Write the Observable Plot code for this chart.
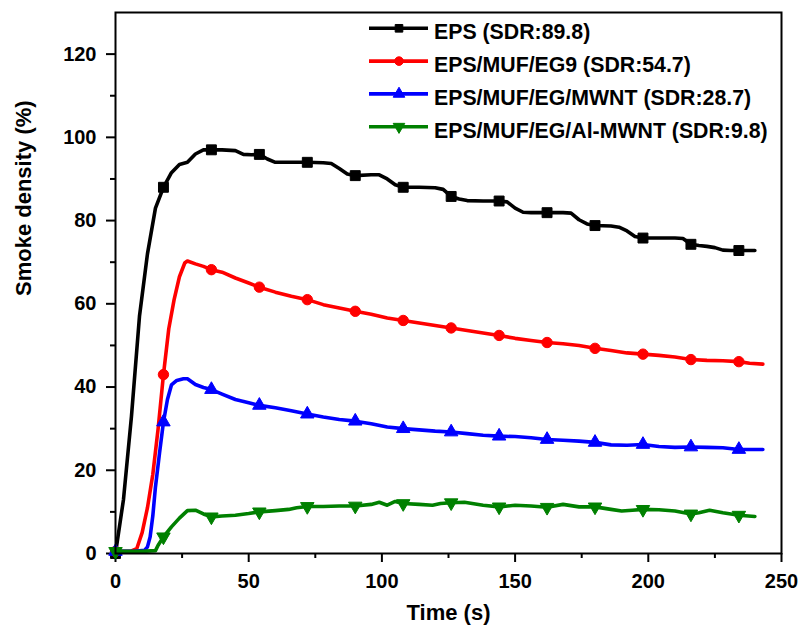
<!DOCTYPE html>
<html><head><meta charset="utf-8">
<script src="https://cdn.jsdelivr.net/npm/d3@7"></script>
<script src="https://cdn.jsdelivr.net/npm/@observablehq/plot@0.6"></script>
<style>
body{margin:0;background:#fff}
svg{font-family:"Liberation Sans",Arial,sans-serif;font-weight:bold}
</style>
</head><body><div id="chart"></div><script>
const seriesNames = ["EPS (SDR:89.8)", "EPS/MUF/EG9 (SDR:54.7)", "EPS/MUF/EG/MWNT (SDR:28.7)", "EPS/MUF/EG/Al-MWNT (SDR:9.8)"];
const seriesColors = ["#000000", "#ff0000", "#0000ff", "#008000"];
const xTicks = [0, 50, 100, 150, 200, 250];
const yTicks = [0, 20, 40, 60, 80, 100, 120];
const markerEvery = 18;

// [time (s), smoke density (%)]
const epsData = [[0,0],[3,13],[6,33],[9,57],[12,72],[15,83],[18,88],[21,91.5],[24,93.5],[27,94],[30,96],[33,97],[36,97],[40,97],[45,96.8],[48,95.9],[51,95.8],[54,95.9],[57,94.8],[60,94],[66,94],[72,94],[78,93.9],[81,93.7],[84,92.5],[87,91.2],[90,90.8],[96,91],[99,91],[102,90],[105,88.6],[108,88],[114,88],[120,87.9],[123,87.5],[126,85.8],[129,85.2],[132,84.8],[138,84.7],[144,84.7],[147,84.5],[150,83],[153,82],[156,81.9],[162,81.9],[168,81.9],[171,81.8],[174,80.2],[177,79.2],[180,78.8],[186,78.7],[189,78.4],[192,77.5],[195,76.2],[198,75.8],[204,75.8],[210,75.8],[213,75.7],[216,74.3],[219,74],[222,73.8],[225,73.5],[228,72.9],[231,72.8],[234,72.8],[237,72.8],[240,72.8]];
const eg9Data = [[0,0.5],[3,0.5],[6,0.6],[8,1.2],[10,5],[12,11],[14,19],[16,30],[18,43],[20,54],[22,61],[24,66.5],[26,69.8],[27,70.3],[30,69.6],[33,69],[36,68.2],[40,67.6],[45,66.2],[50,65],[54,64],[60,62.8],[66,61.8],[72,61],[78,59.8],[84,59],[90,58.2],[96,57.5],[102,56.6],[108,56],[114,55.4],[120,54.8],[126,54.2],[132,53.6],[138,53],[144,52.4],[150,51.7],[156,51.2],[162,50.7],[168,50.4],[174,50],[180,49.3],[186,48.8],[192,48.2],[198,47.9],[204,47.6],[210,47.2],[216,46.6],[222,46.4],[228,46.3],[234,46.1],[238,45.7],[243,45.5]];
const mwntData = [[0,0.5],[6,0.5],[11,0.8],[12,1.6],[13,4],[14,9],[15,16],[16.5,24],[18,31.6],[19.5,37],[21,40.5],[23,41.6],[25.5,42],[27,42],[30,40.6],[33,39.9],[36,39.4],[40,38.3],[45,37],[50,36.2],[54,35.6],[60,35],[66,34.3],[72,33.5],[78,32.8],[84,32.2],[90,31.8],[96,31.2],[102,30.4],[108,30],[114,29.7],[120,29.4],[126,29.2],[132,28.8],[138,28.4],[144,28.2],[150,28.1],[156,27.8],[162,27.4],[168,27.2],[174,27],[180,26.7],[186,26.1],[192,26],[198,26.2],[204,25.7],[210,25.5],[216,25.6],[222,25.5],[228,25.4],[234,25],[240,25],[243,25]];
const alData = [[0,0.5],[10,0.5],[15,0.7],[16,2],[18,4],[21,6.4],[24,8.5],[27,10.3],[30,10.4],[33,9.5],[36,8.8],[40,9],[45,9.2],[50,9.6],[54,10],[60,10.3],[65,10.6],[68,11],[72,11.3],[78,11.3],[84,11.4],[90,11.4],[96,11.8],[99,12.3],[102,11.6],[105,12.5],[108,12],[114,11.8],[119,11.6],[122,12],[126,12.2],[131,12.3],[138,11.6],[144,11.2],[150,11.6],[156,11.4],[162,11.1],[168,11.8],[174,11.2],[180,11.2],[186,10.6],[190,10.2],[194,10.4],[198,10.6],[204,10.5],[210,10.2],[216,9.5],[219,9.8],[223,10.4],[228,9.8],[234,9.2],[240,8.9]];

const allData = [epsData, eg9Data, mwntData, alData];

const sqrt3 = Math.sqrt(3);
const triangleDown = {
  draw(context, size) {
    const y = -Math.sqrt(size / (sqrt3 * 3));
    context.moveTo(0, -y * 2);
    context.lineTo(-sqrt3 * y, y);
    context.lineTo(sqrt3 * y, y);
    context.closePath();
  }
};
const symbols = ["square", "circle", "triangle", triangleDown];
const symbolObjs = [d3.symbolSquare, d3.symbolCircle, d3.symbolTriangle, triangleDown];
const radii = [5.6, 5.2, 5, 5];

const marks = [];
allData.forEach((data, i) => {
  const rows = data.map(([t, v]) => ({t, v}));
  marks.push(Plot.line(rows, {x: "t", y: "v", stroke: seriesColors[i], strokeWidth: 3.6, strokeLinejoin: "round", strokeLinecap: "round"}));
  marks.push(Plot.dot(rows.filter(d => d.t % markerEvery === 0), {x: "t", y: "v", symbol: symbols[i], r: radii[i], fill: seriesColors[i], stroke: seriesColors[i], strokeWidth: 1}));
});

const chart = Plot.plot({
  width: 802,
  height: 635,
  marginLeft: 115,
  marginRight: 21,
  marginTop: 12,
  marginBottom: 82,
  style: {fontFamily: "'Liberation Sans', Arial, sans-serif", background: "#fff", color: "#000"},
  x: {domain: [0, 250]},
  y: {domain: [0, 130]},
  marks: [
    Plot.axisX({ticks: d3.range(25, 250, 50), tickSize: 5, tickFormat: () => "", label: null, strokeWidth: 2}),
    Plot.axisY({ticks: d3.range(10, 130, 20), tickSize: 5, tickFormat: () => "", label: null, strokeWidth: 2}),
    Plot.axisX({ticks: xTicks, tickSize: 9, tickPadding: 11, fontSize: 20, fontWeight: "bold", label: null, strokeWidth: 2}),
    Plot.axisY({ticks: yTicks, tickSize: 9, tickPadding: 10, fontSize: 20, fontWeight: "bold", label: null, strokeWidth: 2}),
    ...marks,
    Plot.frame({stroke: "#000", strokeWidth: 2}),
    Plot.text(["Time (s)"], {frameAnchor: "bottom", dy: 66, fontSize: 22, fontWeight: "bold"}),
    Plot.text(["Smoke density (%)"], {frameAnchor: "left", dx: -92, dy: 13, rotate: -90, fontSize: 22, fontWeight: "bold"})
  ]
});
document.getElementById("chart").appendChild(chart);

// legend (inside plot, top right)
const svg = d3.select(chart);
const lg = svg.append("g").attr("text-anchor", "start");
seriesNames.forEach((name, i) => {
  const yy = 28.3 + i * 32.8;
  const g = lg.append("g");
  g.append("line").attr("x1", 369).attr("x2", 428).attr("y1", yy).attr("y2", yy)
    .attr("stroke", seriesColors[i]).attr("stroke-width", 3.6);
  g.append("path").attr("transform", `translate(399,${yy})`)
    .attr("d", d3.symbol(symbolObjs[i], Math.PI * 4.3 * 4.3)())
    .attr("fill", seriesColors[i]).attr("stroke", seriesColors[i]);
  g.append("text").attr("x", 434).attr("y", yy + 3.5).attr("dy", "0.36em")
    .attr("text-anchor", "start")
    .attr("font-size", 21.3).attr("font-weight", "bold").attr("fill", "#000").text(name);
});
</script></body></html>
